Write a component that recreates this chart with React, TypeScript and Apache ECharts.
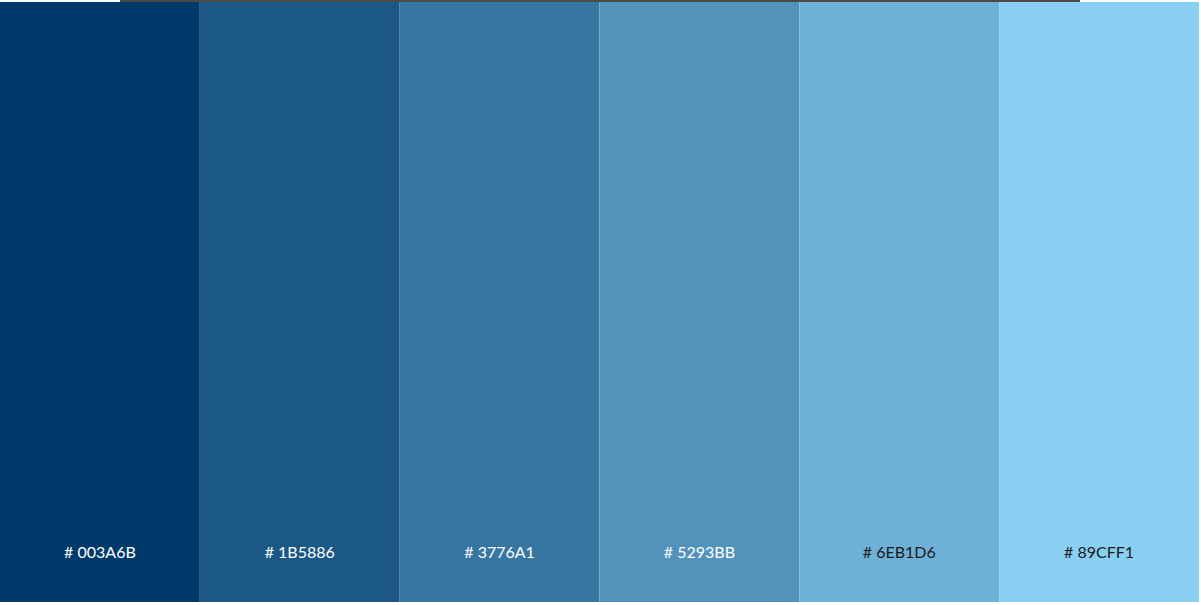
import { useEffect, useRef } from 'react';
import * as echarts from 'echarts';

// palette swatches, left to right
const swatches = ['003A6B', '1B5886', '3776A1', '5293BB', '6EB1D6', '89CFF1'];
const heights = [1, 1, 1, 1, 1, 1];
const labelColors = ['#ffffff', '#ffffff', '#ffffff', '#ffffff', '#1a1a1a', '#1a1a1a'];

const App = () => {
    const chartRef = useRef<HTMLDivElement>(null);

    useEffect(() => {
        const myChart = echarts.init(chartRef.current, null, { renderer: 'svg' });
        myChart.setOption({
            animation: false,
            grid: { left: 0, right: 2, top: 2, bottom: 3 },
            xAxis: {
                type: 'category',
                data: swatches,
                show: false,
            },
            yAxis: { type: 'value', min: 0, max: 1, show: false },
            graphic: [
                { type: 'rect', shape: { x: 120, y: 0, width: 960, height: 2 }, style: { fill: '#4a4a4a' }, z: 10 },
            ],
            series: [
                {
                    type: 'bar',
                    barCategoryGap: 0,
                    data: heights.map((v, i) => ({
                        value: v,
                        itemStyle: { color: '#' + swatches[i] },
                        label: { color: labelColors[i] },
                    })),
                    label: {
                        show: true,
                        position: 'insideBottom',
                        distance: 43,
                        fontFamily: 'Lato',
                        fontSize: 16,
                        formatter: (p: any) => '# ' + p.name,
                    },
                },
            ],
        });
        return () => {
            myChart.dispose();
        };
    }, []);

    return (
        <div
            ref={chartRef}
            style={{ position: 'fixed', left: 0, top: 0, width: '1201px', height: '605px', background: '#fff' }}
        />
    );
};

export default App;
